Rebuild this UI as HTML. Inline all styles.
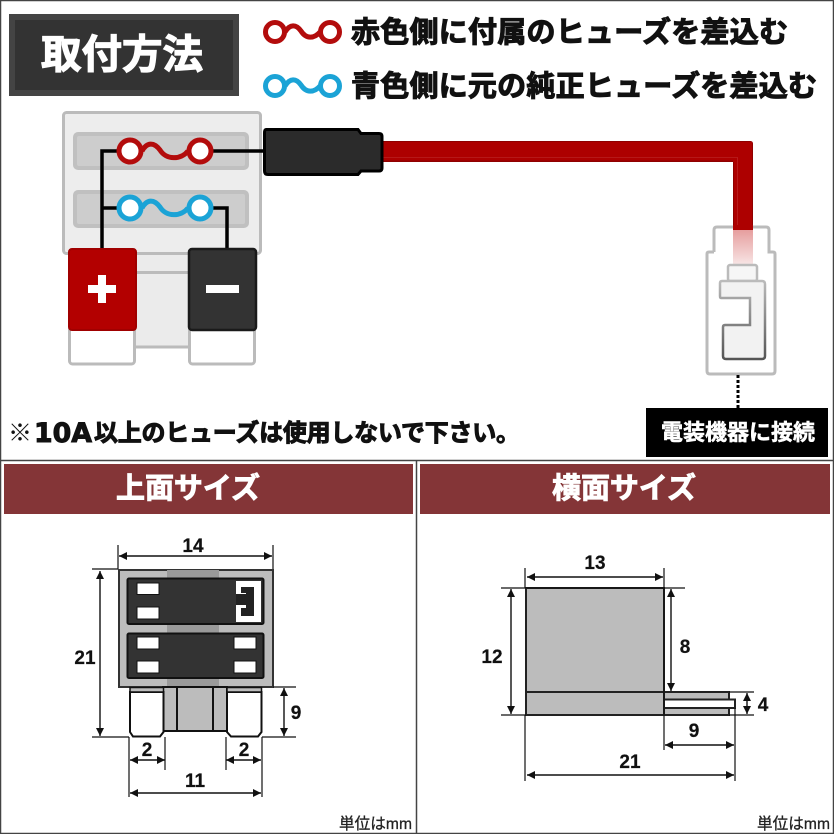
<!DOCTYPE html>
<html lang="ja"><head><meta charset="utf-8"><style>
html,body{margin:0;padding:0;background:#fff}
svg{display:block}
text{font-family:"Liberation Sans","Noto Sans CJK JP",sans-serif;font-weight:700}
.n{font-size:19px;text-anchor:middle;fill:#111;stroke:#111;stroke-width:.2}
.d{stroke:#111;stroke-width:1.2;fill:none}
.a{stroke:#111;stroke-width:1.4;fill:none;marker-start:url(#ar);marker-end:url(#ar)}
</style></head><body>
<svg width="834" height="834" viewBox="0 0 834 834" xmlns="http://www.w3.org/2000/svg">
<defs>
<marker id="ar" viewBox="0 0 8 8" refX="8" refY="4" markerWidth="8" markerHeight="8" markerUnits="userSpaceOnUse" orient="auto-start-reverse"><path d="M0 0L8 4L0 8Z" fill="#111"/></marker>
<linearGradient id="pw" x1="0" y1="0" x2="0" y2="1"><stop offset="0" stop-color="#e59a9a"/><stop offset="1" stop-color="#f8e8e8"/></linearGradient>
<linearGradient id="ts" x1="0" y1="0" x2="0" y2="1"><stop offset="0" stop-color="#bbb"/><stop offset="1" stop-color="#555"/></linearGradient>
</defs>
<rect width="834" height="834" fill="#fff"/>
<rect x="9" y="14" width="230" height="82" fill="#444"/>
<rect x="15" y="20" width="218" height="70" fill="#333"/>
<text x="41" y="68" font-size="40" fill="#fff" stroke="#fff" stroke-width="1.200" textLength="162" lengthAdjust="spacingAndGlyphs">取付方法</text>

<g fill="#fff" stroke="#b30c0c" stroke-width="5"><circle cx="275" cy="32" r="9.500"/><circle cx="330" cy="32" r="9.500"/><path d="M285 32C290 24 296 24 301 31C306 39 314 39 320 32" fill="none"/></g>
<g fill="#fff" stroke="#1ba3d6" stroke-width="5"><circle cx="275" cy="86" r="9.500"/><circle cx="330" cy="86" r="9.500"/><path d="M285 86C290 78 296 78 301 85C306 93 314 93 320 86" fill="none"/></g>
<text x="351" y="42" font-size="29" fill="#111" stroke="#111" stroke-width="1.100" textLength="437">赤色側に付属のヒューズを差込む</text>
<text x="351" y="96" font-size="29" fill="#111" stroke="#111" stroke-width="1.100" textLength="466">青色側に元の純正ヒューズを差込む</text>

<!-- base -->
<path d="M136 255H188V347H136Z" fill="#ebebeb"/>
<path d="M134 272.500H190M134 347H190" stroke="#bbb" stroke-width="3"/>
<rect x="63.500" y="112.500" width="197" height="141" rx="3" fill="#ededed" stroke="#bbb" stroke-width="3"/>
<rect x="73" y="132" width="176" height="38" rx="5" fill="#c0c0c0"/>
<rect x="77" y="136" width="168" height="30" rx="2" fill="#cdcdcd"/>
<rect x="73" y="190" width="176" height="38" rx="5" fill="#c0c0c0"/>
<rect x="77" y="194" width="168" height="30" rx="2" fill="#cdcdcd"/>

<path d="M118 151H102V250M118 208H102M212 208H227V250M212 151H266" fill="none" stroke="#000" stroke-width="3.500"/>
<g fill="#fff" stroke="#b30c0c" stroke-width="5"><circle cx="130" cy="151" r="11"/><circle cx="200" cy="151" r="11"/><path d="M142 151C147 142 154 142 160 150C166 160 181 160 188 151" fill="none"/></g>
<g fill="#fff" stroke="#1ba3d6" stroke-width="5"><circle cx="130" cy="208" r="11"/><circle cx="200" cy="208" r="11"/><path d="M142 208C147 199 154 199 160 207C166 217 181 217 188 208" fill="none"/></g>

<!-- red wire -->
<path d="M383 141H750Q753 141 753 144V228H733V162H383Z" fill="#ad0000"/>
<path d="M383 141H750Q753 141 753 144V228H752V142H383ZM383 160.500H733V228H734V162H383Z" fill="#8f0000"/>
<path d="M383 157.500H737.500V228" fill="none" stroke="#c03030" stroke-width=".6"/>

<!-- plug -->
<path d="M266 129.500H358L361 133.500H379Q382 133.500 382 136.500V168Q382 171 379 171H361L358 174.500H268Q264.500 174.500 264.500 171V133Q264.500 129.500 266 129.500Z" fill="#2b2b2b" stroke="#000" stroke-width="3"/>

<!-- terminals -->
<rect x="69.500" y="326" width="65" height="38" rx="3" fill="#fff" stroke="#bbb" stroke-width="3"/>
<rect x="189.500" y="326" width="65" height="38" rx="3" fill="#fff" stroke="#bbb" stroke-width="3"/>
<rect x="69" y="249" width="67" height="81" rx="3" fill="#b30000" stroke="#a00000" stroke-width="2"/>
<rect x="189" y="249" width="67" height="81" rx="3" fill="#333" stroke="#1a1a1a" stroke-width="2.500"/>
<path d="M88 285H98V275H106V285H116V293H106V303H98V293H88Z" fill="#fff"/>
<rect x="206" y="285" width="33" height="8" fill="#fff"/>

<text x="8" y="441" font-size="24" fill="#111" style="font-weight:400">※</text>
<text x="34" y="442" font-size="27" fill="#111" stroke="#111" stroke-width="1" textLength="58" lengthAdjust="spacingAndGlyphs" style="font-family:'DejaVu Sans',sans-serif">10A</text>
<text x="94" y="441" font-size="24" fill="#111" stroke="#111" stroke-width="1" textLength="426">以上のヒューズは使用しないで下さい。</text>

<!-- right connector -->
<rect x="733" y="228" width="20" height="38" fill="url(#pw)"/>
<path d="M714 252V230Q714 227 717 227H766Q769 227 769 230V252H773Q775 252 775 254V371Q775 374 772 374H710Q707 374 707 371V254Q707 252 709 252H714" fill="none" stroke="#bbb" stroke-width="3"/>
<rect x="733" y="225" width="20" height="5" fill="#ad0000"/>
<rect x="728" y="265" width="29" height="16" rx="2" fill="#f6f6f6" stroke="#bbb" stroke-width="2.500"/>
<path d="M722 281H762Q765 281 765 284V356Q765 359 762 359H726Q723 359 723 356V327Q723 325 725 325H750V298H721Q720 298 720 296V283Q720 281 722 281Z" fill="#f2f2f2" stroke="url(#ts)" stroke-width="2.500"/>
<path d="M738 375V408" stroke="#000" stroke-width="3" stroke-dasharray="3 2"/>
<rect x="646" y="408" width="182" height="49" fill="#000"/>
<text x="661" y="440" font-size="22" fill="#fff" stroke="#fff" stroke-width=".5" textLength="154">電装機器に接続</text>

<!-- frame -->
<path d="M0 460.500H834M416.500 460V834" stroke="#444" stroke-width="1.500"/>
<rect x=".5" y=".5" width="833" height="833" fill="none" stroke="#444" stroke-width="1.500"/>
<rect x="4" y="464" width="409" height="50" fill="#843537"/>
<rect x="420" y="464" width="410" height="50" fill="#843537"/>
<text x="116" y="498" font-size="29" fill="#fff" stroke="#fff" stroke-width=".9" textLength="144">上面サイズ</text>
<text x="552" y="498" font-size="29" fill="#fff" stroke="#fff" stroke-width=".9" textLength="144">横面サイズ</text>

<!-- top view -->
<rect x="119" y="570" width="154" height="117" fill="#bcbcbc" stroke="#333" stroke-width="2"/>
<rect x="167" y="570" width="52" height="116" fill="#9a9a9a"/>
<rect x="127.500" y="578.500" width="136" height="45.500" rx="1.500" fill="#333" stroke="#111" stroke-width="2"/>
<rect x="127.500" y="633.500" width="136" height="44.500" rx="1.500" fill="#333" stroke="#111" stroke-width="2"/>
<g fill="#fff" stroke="#111" stroke-width="1">
<rect x="137" y="583" width="22" height="11.500"/><rect x="137" y="607" width="22" height="12"/>
<rect x="137" y="637" width="22" height="12"/><rect x="137" y="661" width="22" height="12"/>
<rect x="234" y="637" width="22" height="12"/><rect x="234" y="661" width="22" height="12"/>
</g>
<rect x="236" y="581" width="25" height="41" fill="#fff"/>
<path d="M241 587H254V616H241V608H246V605H236V594H246V593H241Z" fill="#222"/>

<rect x="163" y="687" width="64" height="44" fill="#bcbcbc" stroke="#111" stroke-width="2"/>
<path d="M177 687V731M213 687V731" stroke="#111" stroke-width="2"/>
<path d="M130 692V732L133 736.500H160L163.500 732V692Z" fill="#fff" stroke="#111" stroke-width="2"/>
<path d="M227 692V732L231 736.500H258L261.500 732V692Z" fill="#fff" stroke="#111" stroke-width="2"/>
<rect x="130" y="687.500" width="33.500" height="4.500" fill="#bcbcbc" stroke="#111" stroke-width="1.500"/>
<rect x="227" y="687.500" width="34.500" height="4.500" fill="#bcbcbc" stroke="#111" stroke-width="1.500"/>

<g class="d">
<path d="M118 545V569M273 545V569M92 569H118M92 737H129M273 687H296M262 737H296M129 737V797M262 737V797M165 737V770M226 737V770"/>
</g>
<path class="a" d="M119 556H272"/>
<path class="a" d="M100 571V736"/>
<path class="a" d="M284 688V736"/>
<path class="a" d="M130 760H165"/>
<path class="a" d="M226 760H261"/>
<path class="a" d="M130 793H261"/>
<text class="n" x="193" y="552">14</text>
<text class="n" x="85" y="664">21</text>
<text class="n" x="296" y="719">9</text>
<text class="n" x="147" y="756">2</text>
<text class="n" x="244" y="756">2</text>
<text class="n" x="195" y="787">11</text>

<!-- side view -->
<rect x="526" y="588" width="138" height="127" fill="#bcbcbc" stroke="#222" stroke-width="2"/>
<path d="M526 692H664" stroke="#222" stroke-width="2"/>
<rect x="664" y="692" width="65" height="23" fill="#bcbcbc" stroke="#222" stroke-width="2"/>
<rect x="664" y="699.500" width="71" height="8.500" fill="#fff" stroke="#222" stroke-width="2"/>
<g class="d">
<path d="M525 568V588M664 568V750M501 588H685M501 715H526M729 715H754M729 692H754M525 715V781M735 708V781"/>
</g>
<path class="a" d="M527 577H663"/>
<path class="a" d="M511 589V714"/>
<path class="a" d="M671 589V691"/>
<path class="a" d="M747 693V714"/>
<path class="a" d="M665 745H734"/>
<path class="a" d="M527 775H734"/>
<text class="n" x="595" y="569">13</text>
<text class="n" x="492" y="663">12</text>
<text class="n" x="685" y="653">8</text>
<text class="n" x="763" y="711">4</text>
<text class="n" x="694" y="737">9</text>
<text class="n" x="630" y="768">21</text>

<text x="339" y="829" font-size="16" fill="#222" stroke="#222" stroke-width=".3" style="font-weight:400" textLength="73" lengthAdjust="spacingAndGlyphs">単位はmm</text>
<text x="757" y="829" font-size="16" fill="#222" stroke="#222" stroke-width=".3" style="font-weight:400" textLength="73" lengthAdjust="spacingAndGlyphs">単位はmm</text>
</svg>
</body></html>
